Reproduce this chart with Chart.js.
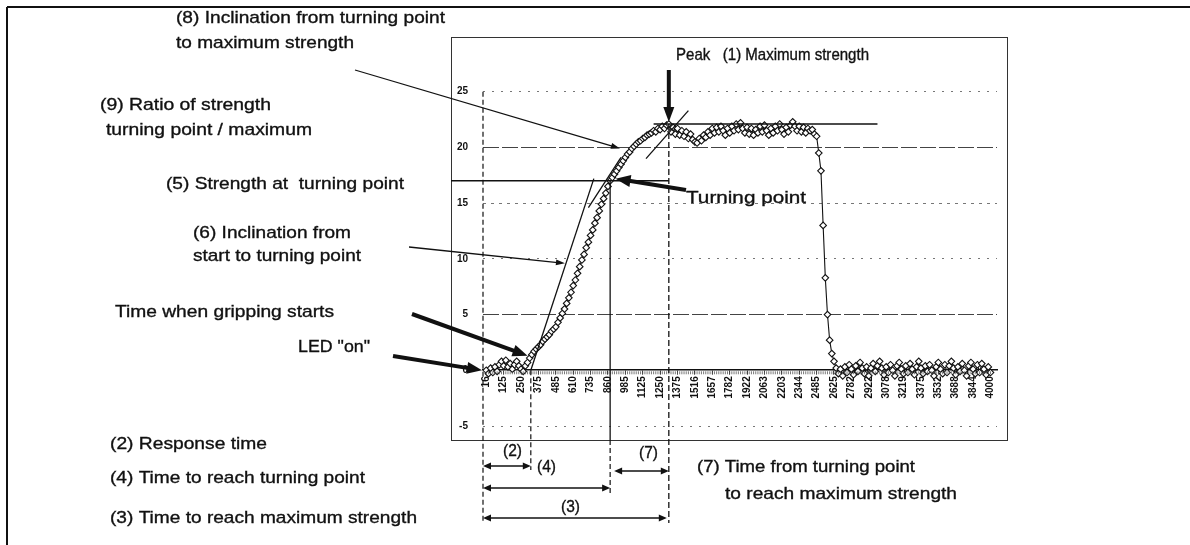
<!DOCTYPE html>
<html>
<head>
<meta charset="utf-8">
<script src="https://cdn.jsdelivr.net/npm/chart.js@4.4.1/dist/chart.umd.min.js"></script>
<style>
  html, body { margin: 0; padding: 0; background: #fff; }
  canvas { display: block; }
</style>
</head>
<body>
<canvas id="grip" width="1190" height="545"></canvas>
<script>
// x axis labels (ms), one label every 8 samples
const tickLabels = [16, 125, 250, 375, 485, 610, 735, 860, 985, 1125, 1250, 1375, 1516, 1657, 1782,
  1922, 2063, 2203, 2344, 2485, 2625, 2782, 2922, 3078, 3219, 3375, 3532, 3688, 3844, 4000];
const labelStep = 8;

// gripping strength per sample (one row = 8 samples = one label step)
const strength = [
  0.0, -0.3, 0.2, -0.2, 0.3, -0.1, 0.5, 0.8,
  0.4, 0.9, 0.3, 0.6, 0.1, 0.5, 0.8, 0.4,
  0.1, -0.1, 0.4, 0.7, 1.1, 1.4, 1.7, 1.9,
  2.1, 2.3, 2.6, 2.8, 3.0, 3.2, 3.5, 3.7,
  3.9, 4.3, 4.7, 5.1, 5.5, 6.0, 6.5, 7.0,
  7.6, 8.1, 8.7, 9.3, 9.9, 10.4, 11.0, 11.5,
  12.1, 12.6, 13.2, 13.7, 14.3, 14.9, 15.4, 15.9,
  16.5, 17.0, 17.3, 17.6, 17.9, 18.2, 18.5, 18.8,
  19.1, 19.4, 19.6, 19.9, 20.1, 20.3, 20.5, 20.6,
  20.8, 20.9, 21.1, 21.2, 21.3, 21.5, 21.4, 21.7,
  21.6, 21.9, 21.7, 22.0, 22.1, 21.4, 21.8, 21.2,
  21.7, 21.1, 21.5, 21.0, 21.4, 20.8, 21.2, 20.7,
  20.5, 20.4, 20.8, 20.6, 21.1, 20.9, 21.4, 21.1,
  21.7, 21.3, 21.8, 21.4, 21.9, 21.5, 21.1, 21.7,
  21.3, 21.9, 21.5, 22.1, 21.6, 22.2, 21.7, 21.3,
  21.8, 21.2, 21.7, 21.1, 21.6, 21.3, 21.9, 21.4,
  22.0, 21.5, 21.1, 21.7, 21.3, 21.9, 21.5, 22.1,
  21.6, 21.2, 21.8, 21.4, 22.0, 22.3, 21.9, 21.5,
  21.9, 21.4, 21.8, 21.3, 21.7, 21.5, 21.6, 21.2,
  21.0, 19.5, 17.9, 13.0, 8.3, 5.0, 2.7, 1.5,
  0.8, 0.2, -0.3, 0.1, -0.5, 0.3, -0.2, 0.5,
  0.1, -0.4, 0.4, -0.1, 0.7, 0.2, -0.3, 0.3,
  -0.5, 0.2, 0.6, -0.1, 0.4, 0.8, 0.2, -0.4,
  0.3, -0.2, 0.5, 0.0, -0.5, 0.4, 0.7, 0.1,
  -0.3, 0.4, -0.2, 0.6, 0.1, -0.4, 0.3, 0.8,
  0.2, -0.3, 0.4, -0.1, 0.5, 0.0, -0.5, 0.3,
  0.7, 0.1, -0.3, 0.5, -0.2, 0.4, 0.8, 0.2,
  -0.4, 0.3, -0.1, 0.6, 0.0, -0.5, 0.4, 0.7,
  0.1, -0.3, 0.5, -0.2, 0.6, 0.1, -0.4, 0.3,
  -0.2
];

// marked points on the curve (sample index, strength)
const startIdx = 20.5;
const turnIdx = 57;
const peakIdx = 84;
const turnStrength = 17;
const maxStrength = 22.1;
const maxLineIdx = [77, 180];
const slopeLine = [[20.5, 0], [49.5, 17.2]];
const turnTangent = [[47, 14.6], [62, 19.1]];
const peakTangent = [[73.5, 19.0], [93, 23.3]];

const FONT = '"Liberation Sans", Arial, sans-serif';
const INK = '#111';

function txt(ctx, s, x, y, w, size) {
  ctx.save();
  ctx.font = size + 'px ' + FONT;
  const m = ctx.measureText(s).width;
  ctx.translate(x, y);
  ctx.scale(w / m, 1);
  ctx.textBaseline = 'middle';
  ctx.fillStyle = INK;
  ctx.strokeStyle = INK;
  ctx.lineWidth = 0.35;
  ctx.fillText(s, 0, 0);
  ctx.strokeText(s, 0, 0);
  ctx.restore();
}

function line(ctx, x1, y1, x2, y2, width, dash) {
  ctx.save();
  ctx.lineWidth = width;
  ctx.strokeStyle = INK;
  ctx.setLineDash(dash || []);
  ctx.beginPath();
  ctx.moveTo(x1, y1);
  ctx.lineTo(x2, y2);
  ctx.stroke();
  ctx.restore();
}

function head(ctx, x1, y1, x2, y2, len, wid) {
  const a = Math.atan2(y2 - y1, x2 - x1);
  ctx.save();
  ctx.translate(x2, y2);
  ctx.rotate(a);
  ctx.fillStyle = INK;
  ctx.beginPath();
  ctx.moveTo(0, 0);
  ctx.lineTo(-len, wid / 2);
  ctx.lineTo(-len, -wid / 2);
  ctx.closePath();
  ctx.fill();
  ctx.restore();
}

function arrow(ctx, x1, y1, x2, y2, width, len, wid) {
  const a = Math.atan2(y2 - y1, x2 - x1);
  line(ctx, x1, y1, x2 - Math.cos(a) * len * 0.8, y2 - Math.sin(a) * len * 0.8, width);
  head(ctx, x1, y1, x2, y2, len, wid);
}

function span(ctx, x1, x2, y) {
  line(ctx, x1 + 4, y, x2 - 4, y, 1.5);
  head(ctx, x2, y, x1, y, 8, 7);
  head(ctx, x1, y, x2, y, 8, 7);
}

const annotations = {
  id: 'annotations',
  afterDraw(chart) {
    const { ctx, chartArea: ca, scales: { x, y } } = chart;
    const px = v => x.getPixelForValue(v);
    const py = v => y.getPixelForValue(v);

    // page frame and chart box
    line(ctx, 7, 7, 1190, 7, 2);
    line(ctx, 7, 7, 7, 545, 2);
    ctx.save();
    ctx.strokeStyle = '#333';
    ctx.lineWidth = 1;
    ctx.strokeRect(451.5, 37.5, 556, 403);
    ctx.restore();

    // minor ticks under the time axis
    ctx.save();
    ctx.strokeStyle = '#555';
    ctx.lineWidth = 0.8;
    for (let k = 0; k < strength.length; k++) {
      ctx.beginPath();
      ctx.moveTo(px(k), py(0) + 1);
      ctx.lineTo(px(k), py(0) + 4);
      ctx.stroke();
    }
    ctx.restore();

    // reference lines
    line(ctx, ca.left, py(25), ca.left, 523, 1.2, [5, 3]);
    line(ctx, px(startIdx), py(0), px(startIdx), 470, 1.2, [5, 3]);
    line(ctx, px(turnIdx), py(turnStrength), px(turnIdx), 440, 1.3);
    line(ctx, px(turnIdx), 440, px(turnIdx), 493, 1.2, [5, 3]);
    line(ctx, px(peakIdx), py(maxStrength), px(peakIdx), 523, 1.3, [6, 3]);
    line(ctx, 451, py(turnStrength), px(peakIdx), py(turnStrength), 1.5);
    line(ctx, px(maxLineIdx[0]), py(maxStrength), px(maxLineIdx[1]), py(maxStrength), 1.5);
    [slopeLine, turnTangent, peakTangent].forEach(s =>
      line(ctx, px(s[0][0]), py(s[0][1]), px(s[1][0]), py(s[1][1]), 1.3));

    // pointers
    arrow(ctx, 355, 70, px(61.5), py(19.9), 1.3, 9, 6);
    arrow(ctx, 409, 247, px(36.2), py(9.6), 1.3, 9, 6);
    arrow(ctx, 412, 314, px(19), py(1.3), 4, 15, 12);
    arrow(ctx, 393, 356, ca.left - 1, py(0), 4, 15, 12);
    arrow(ctx, 686, 190, px(59.5), py(17.2), 4, 15, 12);
    arrow(ctx, px(peakIdx), 70, px(peakIdx), py(maxStrength) - 2, 4, 15, 11);

    // time spans
    span(ctx, ca.left, px(startIdx), 466);
    span(ctx, ca.left, px(turnIdx), 488);
    span(ctx, px(turnIdx) + 4, px(peakIdx), 471);
    span(ctx, ca.left, px(peakIdx) - 2, 518);

    // labels
    txt(ctx, '(8) Inclination from turning point', 176, 18, 269, 17);
    txt(ctx, 'to maximum strength', 176, 43, 178, 17);
    txt(ctx, 'Peak   (1) Maximum strength', 676, 55, 193, 17);
    txt(ctx, '(9) Ratio of strength', 100, 105, 171, 17);
    txt(ctx, 'turning point / maximum', 106, 130, 206, 17);
    txt(ctx, '(5) Strength at  turning point', 166, 184, 238, 17);
    txt(ctx, 'Turning point', 686, 198, 120, 17);
    txt(ctx, '(6) Inclination from', 193, 233, 158, 17);
    txt(ctx, 'start to turning point', 193, 256, 168, 17);
    txt(ctx, 'Time when gripping starts', 115, 312, 219, 17);
    txt(ctx, 'LED "on"', 298, 347, 72, 17);
    txt(ctx, '(2) Response time', 110, 444, 157, 17);
    txt(ctx, '(4) Time to reach turning point', 110, 478, 255, 17);
    txt(ctx, '(3) Time to reach maximum strength', 110, 518, 307, 17);
    txt(ctx, '(7) Time from turning point', 697, 467, 218, 17);
    txt(ctx, 'to reach maximum strength', 725, 494, 232, 17);
    txt(ctx, '(2)', 503, 451, 19, 17);
    txt(ctx, '(4)', 537, 467, 19, 17);
    txt(ctx, '(7)', 639, 453, 19, 17);
    txt(ctx, '(3)', 561, 507, 19, 17);
  }
};

const dashFor = v => (v === 20 || v === 5) ? [16, 3] : (v === 15 ? [3, 5] : [2, 7]);

new Chart(document.getElementById('grip'), {
  type: 'line',
  data: {
    datasets: [{
      data: strength.map((v, i) => ({ x: i, y: v })),
      borderColor: INK,
      borderWidth: 1.1,
      pointStyle: 'rectRot',
      pointRadius: 3.3,
      pointBorderWidth: 1.1,
      pointBorderColor: INK,
      pointBackgroundColor: '#fff',
      tension: 0
    }]
  },
  options: {
    responsive: false,
    animation: false,
    devicePixelRatio: 1,
    layout: { padding: { left: 449, right: 193, top: 36, bottom: 119 } },
    plugins: { legend: { display: false }, tooltip: { enabled: false } },
    scales: {
      x: {
        type: 'linear',
        min: -1.5,
        max: 235,
        position: { y: 0 },
        afterBuildTicks: scale => {
          scale.ticks = tickLabels.map((t, i) => ({ value: i * labelStep }));
        },
        afterFit: scale => {
          scale.paddingLeft = scale.paddingRight = scale.paddingTop = scale.paddingBottom = 0;
        },
        grid: { drawOnChartArea: false, drawTicks: true, tickLength: 4, color: '#333' },
        border: { display: true, color: INK, width: 1.6 },
        ticks: {
          autoSkip: false,
          minRotation: 90,
          maxRotation: 90,
          padding: 2,
          color: '#111',
          font: { family: FONT, size: 10, weight: 'bold' },
          callback: (v, i) => tickLabels[i]
        }
      },
      y: {
        min: -5,
        max: 30,
        afterFit: scale => {
          scale.width = 34;
          scale.paddingLeft = scale.paddingRight = scale.paddingTop = scale.paddingBottom = 0;
        },
        grid: {
          drawTicks: false,
          lineWidth: 1,
          color: c => (c.tick && (c.tick.value === 30 || c.tick.value === 0)) ? 'rgba(0,0,0,0)'
            : (c.tick && (c.tick.value === 20 || c.tick.value === 5) ? '#444' : '#777')
        },
        border: { display: false, dash: c => c.tick ? dashFor(c.tick.value) : [] },
        ticks: {
          stepSize: 5,
          padding: 15,
          color: '#111',
          font: { family: FONT, size: 10, weight: 'bold' },
          callback: v => v === 30 ? '' : v
        }
      }
    }
  },
  plugins: [annotations]
});
</script>
</body>
</html>
